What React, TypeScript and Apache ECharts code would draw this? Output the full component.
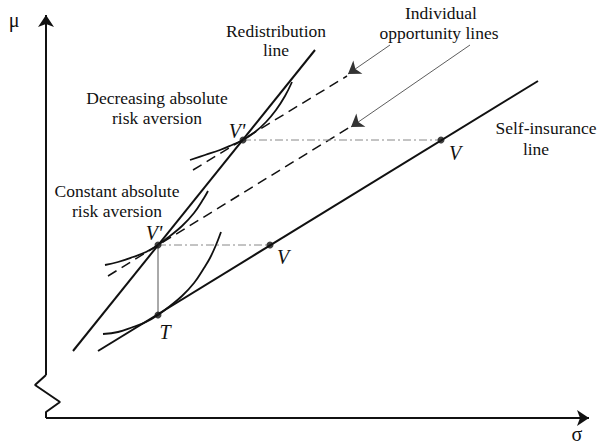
import React, { useEffect, useRef } from "react";
import * as echarts from "echarts";

// Data space: sigma (x) and mu (y), origin at the axis corner.
const selfInsuranceLine: number[][] = [[52, 67], [492, 337]];
const redistributionLine: number[][] = [[27, 67], [269, 368]];
const lowerOpportunityLine: number[][] = [[62, 142], [304, 291]];
const upperOpportunityLine: number[][] = [[147, 248], [301, 342]];

const curveAtT: number[][] = [
  [57, 84], [72, 86], [87, 91], [100, 96], [112, 103], [124, 112],
  [136, 122], [148, 135], [158, 150], [164, 160], [170, 173], [175, 186],
];
const curveConstantARA: number[][] = [
  [59, 153], [72, 156], [87, 161], [100, 166], [112, 173], [124, 182],
  [136, 192], [148, 205], [158, 220], [162, 227],
];
const curveDecreasingARA: number[][] = [
  [144, 258], [159, 263], [174, 268], [186, 273], [197, 278], [209, 286],
  [220, 296], [230, 308], [239, 322], [246, 336],
];

const pointT = [112, 103];
const pointV1p = [112, 173];
const pointV1 = [224, 173];
const pointV2p = [197, 278];
const pointV2 = [395, 278];

const yAxisBreak: number[][] = [[0, 0], [0, 6], [14, 16], [-11, 33], [0, 43]];
const yAxisArrow: number[][] = [[0, 43], [0, 403]];
const xAxisArrow: number[][] = [[0, 0], [543, 0]];
const leaderUpper: number[][] = [[344, 373], [302, 344]];
const leaderLower: number[][] = [[424, 373], [305, 291]];

const serif = "'Liberation Serif', 'Times New Roman', serif";

export default function App() {
  const ref = useRef<HTMLDivElement>(null);
  useEffect(() => {
    if (!ref.current) return;
    const chart = echarts.init(ref.current, null, { renderer: "svg" });
    const solid = (data: number[][], width = 2) => ({
      type: "line",
      data,
      symbol: "none",
      lineStyle: { color: "#111", width },
      silent: true,
    });
    const smoothCurve = (data: number[][]) => ({
      type: "line",
      data,
      symbol: "none",
      smooth: 0.4,
      lineStyle: { color: "#111", width: 1.8 },
      silent: true,
    });
    const dashed = (data: number[][]) => ({
      type: "line",
      data,
      symbol: "none",
      lineStyle: { color: "#111", width: 1.5, type: [10, 6] },
      silent: true,
    });
    const dashDot = (data: number[][]) => ({
      type: "line",
      data,
      symbol: "none",
      lineStyle: { color: "#888", width: 1, type: [8, 3, 2, 3] },
      silent: true,
    });
    const txt = (text: string, x: number, y: number, italic = false, size = 17.5) => ({
      type: "text",
      x,
      y,
      silent: true,
      style: {
        text,
        fontFamily: serif,
        fontSize: size,
        fontStyle: italic ? "italic" : "normal",
        fill: "#111",
        align: "center",
        verticalAlign: "middle",
      },
    });
    chart.setOption({
      animation: false,
      grid: { left: 0, right: 0, top: 0, bottom: 0 },
      xAxis: { type: "value", min: -46, max: 560, show: false },
      yAxis: { type: "value", min: -28, max: 418, show: false },
      series: [
        solid(yAxisBreak, 2),
        {
          type: "lines",
          coordinateSystem: "cartesian2d",
          symbol: ["none", "arrow"],
          symbolSize: 12,
          lineStyle: { color: "#111", width: 2, opacity: 1 },
          data: [{ coords: yAxisArrow }, { coords: xAxisArrow }],
          silent: true,
        },
        {
          type: "lines",
          coordinateSystem: "cartesian2d",
          symbol: ["none", "arrow"],
          symbolSize: 12,
          lineStyle: { color: "#333", width: 0.8, opacity: 1 },
          data: [{ coords: leaderUpper }, { coords: leaderLower }],
          silent: true,
        },
        solid(selfInsuranceLine),
        solid(redistributionLine),
        dashed(lowerOpportunityLine),
        dashed(upperOpportunityLine),
        smoothCurve(curveAtT),
        smoothCurve(curveConstantARA),
        smoothCurve(curveDecreasingARA),
        {
          type: "line",
          data: [pointV1p, pointT],
          symbol: "none",
          lineStyle: { color: "#555", width: 1 },
          silent: true,
        },
        dashDot([pointV1p, pointV1]),
        dashDot([pointV2p, pointV2]),
        {
          type: "scatter",
          data: [pointT, pointV1p, pointV1, pointV2p, pointV2],
          symbolSize: 7,
          itemStyle: { color: "#111" },
          silent: true,
          z: 5,
        },
      ],
      graphic: [
        txt("μ", 14, 20, false, 20),
        txt("σ", 577, 434, false, 20),
        txt("Redistribution", 276, 31),
        txt("line", 276, 50),
        txt("Individual", 441, 13),
        txt("opportunity lines", 439, 33),
        txt("Decreasing absolute", 157, 98),
        txt("risk aversion", 157, 118),
        txt("Constant absolute", 117, 191),
        txt("risk aversion", 117, 211),
        txt("Self-insurance", 546, 128),
        txt("line", 536, 149),
        txt("V'", 154, 233, true, 20),
        txt("T", 165, 332, true, 20),
        txt("V", 283, 257, true, 20),
        txt("V'", 237, 131, true, 20),
        txt("V", 455, 153, true, 20),
      ],
    });
    return () => chart.dispose();
  }, []);
  return (
    <div
      ref={ref}
      style={{ position: "fixed", left: 0, top: 0, width: 606, height: 446, background: "#fff" }}
    />
  );
}
